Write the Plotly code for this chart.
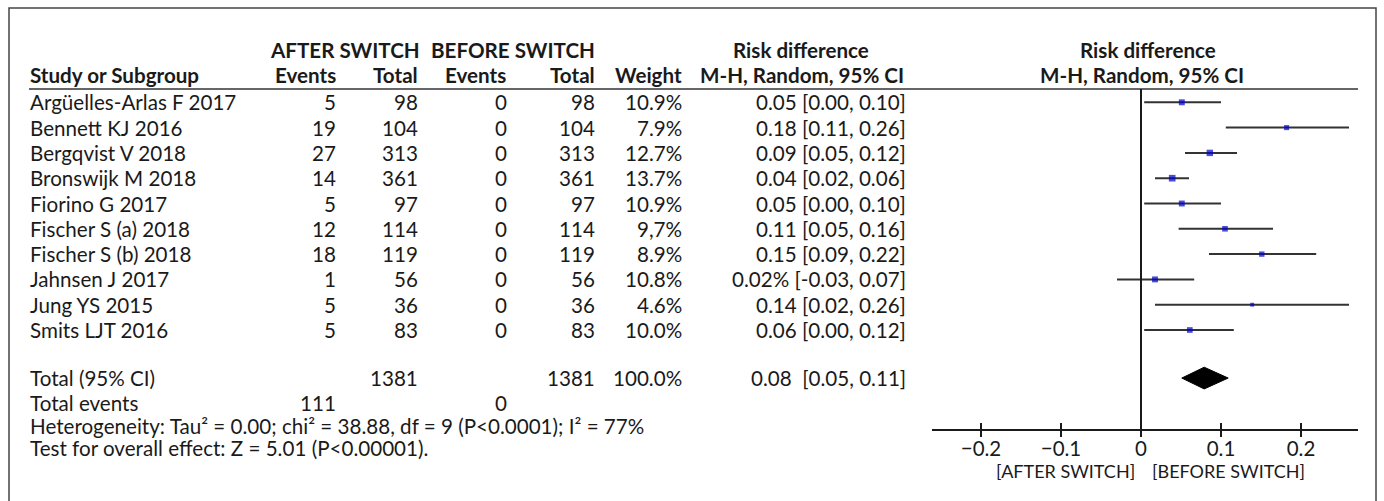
import plotly.graph_objects as go

W, H = 1384, 501

# ---------------- data ----------------
studies = ["Argüelles-Arlas F 2017", "Bennett KJ 2016", "Bergqvist V 2018", "Bronswijk M 2018",
           "Fiorino G 2017", "Fischer S (a) 2018", "Fischer S (b) 2018", "Jahnsen J 2017",
           "Jung YS 2015", "Smits LJT 2016"]
events_after = [5, 19, 27, 14, 5, 12, 18, 1, 5, 5]
total_after = [98, 104, 313, 361, 97, 114, 119, 56, 36, 83]
events_before = [0, 0, 0, 0, 0, 0, 0, 0, 0, 0]
total_before = [98, 104, 313, 361, 97, 114, 119, 56, 36, 83]
weights = [10.9, 7.9, 12.7, 13.7, 10.9, 9.7, 8.9, 10.8, 4.6, 10.0]
weight_labels = ["10.9%", "7.9%", "12.7%", "13.7%", "10.9%", "9,7%", "8.9%", "10.8%", "4.6%", "10.0%"]
rd_labels = ["0.05 [0.00, 0.10]", "0.18 [0.11, 0.26]", "0.09 [0.05, 0.12]", "0.04 [0.02, 0.06]",
             "0.05 [0.00, 0.10]", "0.11 [0.05, 0.16]", "0.15 [0.09, 0.22]", "0.02% [-0.03, 0.07]",
             "0.14 [0.02, 0.26]", "0.06 [0.00, 0.12]"]
rd_est = [0.051, 0.182, 0.086, 0.039, 0.051, 0.105, 0.151, 0.0175, 0.139, 0.061]
rd_lo = [0.004, 0.106, 0.055, 0.0175, 0.004, 0.047, 0.085, -0.030, 0.0175, 0.004]
rd_hi = [0.100, 0.260, 0.120, 0.060, 0.100, 0.165, 0.219, 0.0665, 0.260, 0.116]

total_n_after = 1381
total_n_before = 1381
total_weight = "100.0%"
total_rd_label = "0.08  [0.05, 0.11]"
total_est, total_lo, total_hi = 0.079, 0.051, 0.109
total_events_after = 111
total_events_before = 0
heterogeneity = "Heterogeneity: Tau\u00b2 = 0.00; chi\u00b2 = 38.88, df = 9 (P<0.0001); I\u00b2 = 77%"
overall_test = "Test for overall effect: Z = 5.01 (P<0.00001)."

tick_vals = [-0.2, -0.1, 0, 0.1, 0.2]
tick_text = ["\u22120.2", "\u22120.1", "0", "0.1", "0.2"]
favours_left = "[AFTER SWITCH]"
favours_right = "[BEFORE SWITCH]"

# ---------------- layout helpers ----------------
FONT = "Lato"
TXT = "#1a1a1a"
FS = 20.6
ROW0, ROWH = 102.3, 25.3          # pixel y of first row, row height
TOTAL_ROW = 10.9


def px(x):
    return x / W


def py(y):
    return 1 - y / H


ann = []


def add_text(text, x, y, anchor, yref="y", size=FS, bold=False):
    ann.append(dict(text=("<b>%s</b>" % text) if bold else text, x=px(x), xref="paper",
                    y=y if yref == "y" else py(y), yref=yref, xanchor=anchor, yanchor="middle",
                    showarrow=False, borderpad=0, font=dict(family=FONT, size=size, color=TXT)))


fig = go.Figure()

# study estimates with CIs
fig.add_trace(go.Scatter(
    x=rd_est, y=list(range(len(studies))), mode="markers",
    marker=dict(symbol="square", size=[1.8 * w ** 0.5 for w in weights], color="#0000CC",
                line=dict(width=0)),
    error_x=dict(type="data", symmetric=False,
                 array=[h - e for h, e in zip(rd_hi, rd_est)],
                 arrayminus=[e - l for e, l in zip(rd_est, rd_lo)],
                 width=0, thickness=2, color="#333333"),
    hoverinfo="skip", showlegend=False))

# pooled diamond
dh = 0.43
fig.add_trace(go.Scatter(
    x=[total_lo, total_est, total_hi, total_est, total_lo],
    y=[TOTAL_ROW, TOTAL_ROW - dh, TOTAL_ROW, TOTAL_ROW + dh, TOTAL_ROW],
    mode="lines", fill="toself", fillcolor="#000000", line=dict(color="#000000", width=1),
    hoverinfo="skip", showlegend=False))

# column x positions (pixels)
X_STUDY = 29
X_EA, X_TA, X_EB, X_TB, X_W, X_RD = 337, 419, 508, 596, 683, 907

# headers
add_text("AFTER SWITCH", 345, 50, "center", yref="paper", bold=True)
add_text("BEFORE SWITCH", 513, 50, "center", yref="paper", bold=True)
add_text("Risk difference", 801, 50, "center", yref="paper", bold=True)
add_text("Risk difference", 1148, 50, "center", yref="paper", bold=True)
add_text("Study or Subgroup", X_STUDY, 75, "left", yref="paper", bold=True)
add_text("Events", X_EA, 75, "right", yref="paper", bold=True)
add_text("Total", X_TA, 75, "right", yref="paper", bold=True)
add_text("Events", X_EB - 1, 75, "right", yref="paper", bold=True)
add_text("Total", X_TB, 75, "right", yref="paper", bold=True)
add_text("Weight", X_W, 75, "right", yref="paper", bold=True)
add_text("M-H, Random, 95% CI", X_RD - 2, 75, "right", yref="paper", bold=True)
add_text("M-H, Random, 95% CI", 1142, 75, "center", yref="paper", bold=True)

# study rows
for i, s in enumerate(studies):
    add_text(s, X_STUDY, i, "left")
    add_text(str(events_after[i]), X_EA, i, "right")
    add_text(str(total_after[i]), X_TA, i, "right")
    add_text(str(events_before[i]), X_EB, i, "right")
    add_text(str(total_before[i]), X_TB, i, "right")
    add_text(weight_labels[i], X_W, i, "right")
    add_text(rd_labels[i], X_RD, i, "right")

# totals
add_text("Total (95% CI)", X_STUDY, TOTAL_ROW, "left")
add_text(str(total_n_after), X_TA, TOTAL_ROW, "right")
add_text(str(total_n_before), X_TB, TOTAL_ROW, "right")
add_text(total_weight, X_W, TOTAL_ROW, "right")
add_text(total_rd_label, X_RD, TOTAL_ROW, "right")
add_text("Total events", X_STUDY, 403, "left", yref="paper")
add_text(str(total_events_after), X_EA, 403, "right", yref="paper")
add_text(str(total_events_before), X_EB, 403, "right", yref="paper")
add_text(heterogeneity, X_STUDY, 426, "left", yref="paper")
add_text(overall_test, X_STUDY, 448, "left", yref="paper")

# favours labels
add_text(favours_left, 1065, 471, "center", yref="paper", size=18)
add_text(favours_right, 1228, 471, "center", yref="paper", size=18)

# shapes: frame, header rule, zero line, ticks crossing the axis
AXIS_Y = 430
shapes = [
    dict(type="rect", xref="paper", yref="paper", x0=px(9), x1=px(1376), y0=-0.05, y1=py(8),
         line=dict(color="#444444", width=1.5), fillcolor="rgba(0,0,0,0)"),
    dict(type="line", xref="paper", yref="paper", x0=px(29), x1=px(1358), y0=py(89), y1=py(89),
         line=dict(color="#333333", width=1.5)),
    dict(type="line", xref="x", yref="paper", x0=0, x1=0, y0=py(89), y1=py(AXIS_Y),
         line=dict(color="#1a1a1a", width=2)),
]
for tv in tick_vals:
    shapes.append(dict(type="line", xref="x", yref="paper", x0=tv, x1=tv, y0=py(AXIS_Y + 7), y1=py(AXIS_Y - 7),
                       line=dict(color="#1a1a1a", width=2)))

ZERO_PX, PX_PER_UNIT = 1141, 800
AX_L, AX_R = 932, 1358
fig.update_layout(
    template="none",
    width=W, height=H, margin=dict(l=0, r=0, t=0, b=0, pad=0, autoexpand=False),
    paper_bgcolor="white", plot_bgcolor="rgba(0,0,0,0)",
    showlegend=False, annotations=ann, shapes=shapes,
    xaxis=dict(domain=[px(AX_L), px(AX_R)],
               range=[(AX_L - ZERO_PX) / PX_PER_UNIT, (AX_R - ZERO_PX) / PX_PER_UNIT],
               anchor="free", position=py(AXIS_Y), showline=True, linecolor="#1a1a1a", linewidth=2,
               ticks="", tickvals=tick_vals, ticktext=tick_text, showgrid=False, zeroline=False,
               ticklabelstandoff=0, automargin=False,
               tickfont=dict(family=FONT, size=20.5, color=TXT), fixedrange=True),
    yaxis=dict(domain=[0, 1], range=[(H - ROW0) / ROWH, -ROW0 / ROWH], visible=False,
               showgrid=False, zeroline=False, fixedrange=True, automargin=False),
)

# remove the default page margin so the figure sits at the window's top-left corner
page_css = "document.body.style.margin='0';document.body.style.overflow='hidden';"
fig.write_html("out.html", post_script=page_css, config={"displayModeBar": False, "staticPlot": True})
